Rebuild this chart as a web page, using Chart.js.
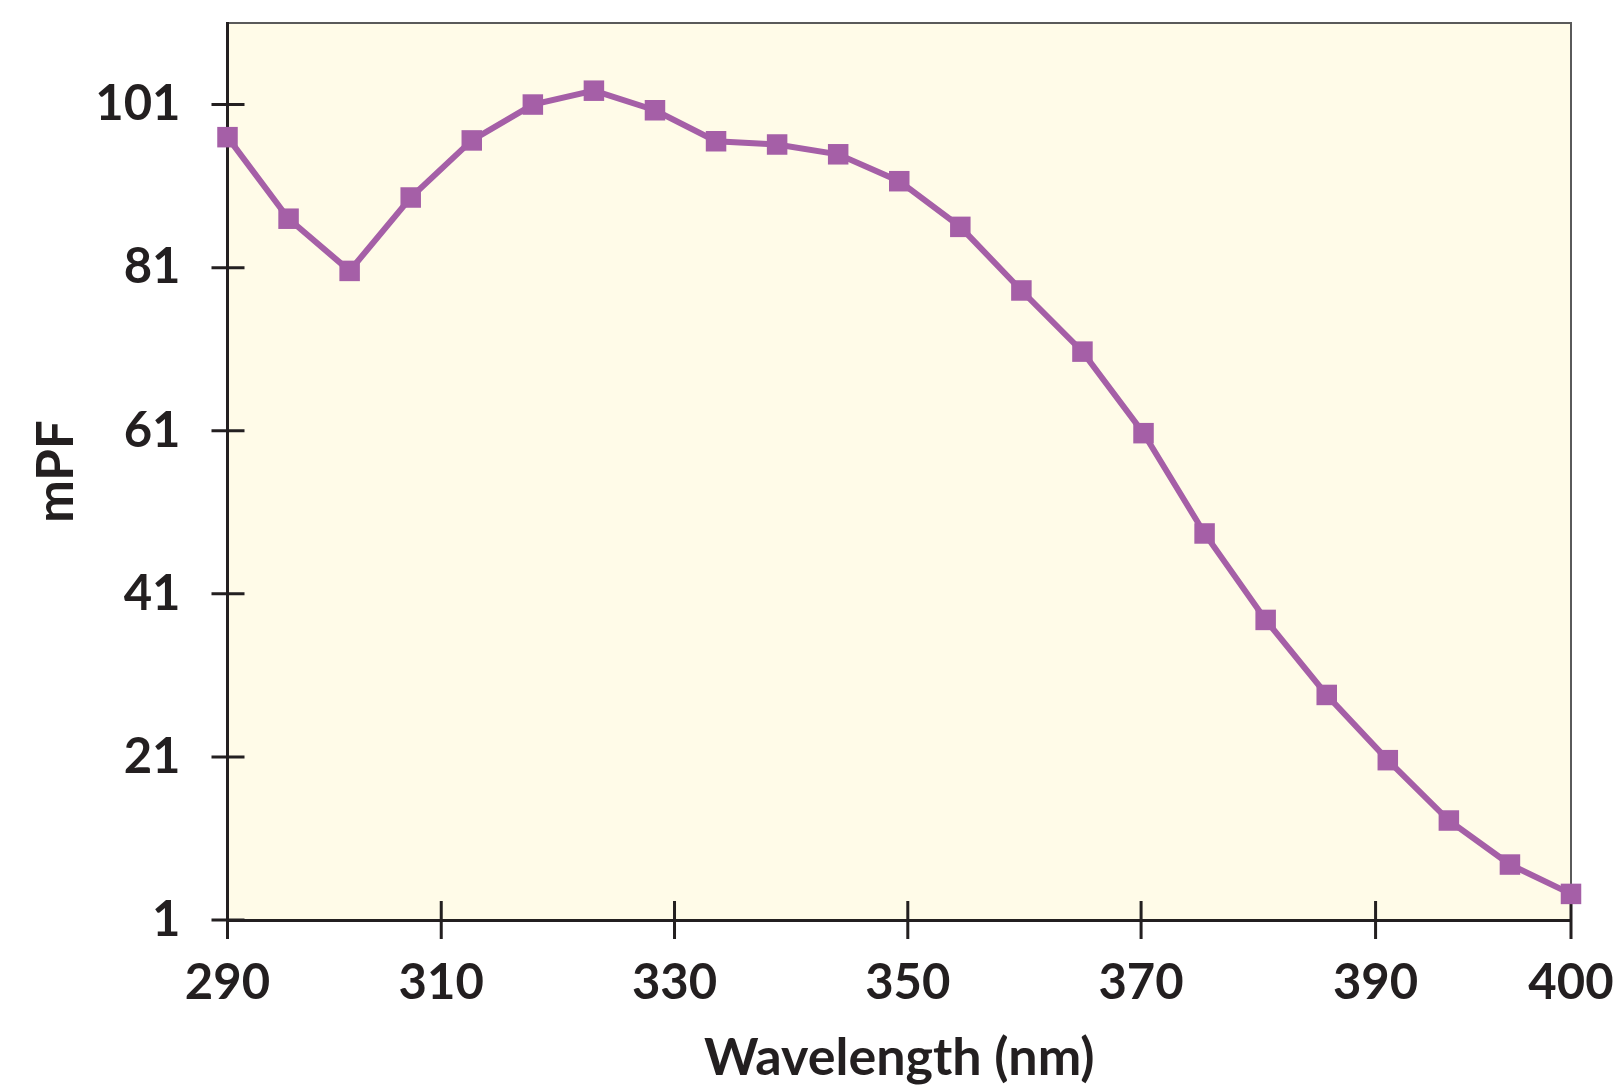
<!DOCTYPE html>
<html><head><meta charset="utf-8">
<script src="https://cdn.jsdelivr.net/npm/chart.js@4/dist/chart.umd.min.js"></script>
<style>html,body{margin:0;padding:0;background:#fff;}#wrap{width:1624px;height:1089px;position:relative;}</style>
</head><body><div id="wrap"><canvas id="c" width="1624" height="1089"></canvas></div>
<script>
const wavelengths = [290,295,300,305,310,315,320,325,330,335,340,345,350,355,360,365,370,375,380,385,390,395,400];
const mpf = [97.0,87.0,80.6,89.6,96.6,101.0,102.7,100.3,96.5,96.1,94.9,91.6,86.0,78.2,70.7,60.7,48.4,37.8,28.6,20.6,13.2,7.8,4.2];
const yTicks = [1,21,41,61,81,101];
const xTickValues = [290,307.5,326.6,345.7,364.8,384,400];
const xTickLabels = ['290','310','330','350','370','390','400'];

const INK = '#231F20';
const FONT = 'Lato, "DejaVu Sans", sans-serif';

const framePlugin = {
  id: 'frame',
  beforeDraw(chart) {
    const {ctx, chartArea: a} = chart;
    ctx.save();
    ctx.fillStyle = '#FFFBE8';
    ctx.fillRect(a.left, a.top, a.right - a.left, a.bottom - a.top);
    ctx.strokeStyle = '#5A5A5A';
    ctx.lineWidth = 2;
    ctx.beginPath();
    ctx.moveTo(a.left, a.top);
    ctx.lineTo(a.right, a.top);
    ctx.lineTo(a.right, a.bottom);
    ctx.stroke();
    ctx.restore();
  },
  beforeDatasetsDraw(chart) {
    const {ctx, chartArea: a, scales} = chart;
    ctx.save();
    ctx.strokeStyle = INK;
    ctx.lineWidth = 3;
    ctx.beginPath();
    scales.y.ticks.forEach(t => {
      const p = scales.y.getPixelForValue(t.value);
      ctx.moveTo(a.left - 16, p); ctx.lineTo(a.left + 17, p);
    });
    scales.x.ticks.forEach(t => {
      const p = scales.x.getPixelForValue(t.value);
      ctx.moveTo(p, a.bottom - 19); ctx.lineTo(p, a.bottom + 19);
    });
    ctx.stroke();
    ctx.restore();
  }
};

new Chart(document.getElementById('c'), {
  type: 'line',
  data: {
    datasets: [{
      data: wavelengths.map((w, i) => ({x: w, y: mpf[i]})),
      borderColor: '#A55FA7',
      backgroundColor: '#A55FA7',
      borderWidth: 6,
      tension: 0,
      pointStyle: 'rect',
      pointRadius: 14.5,
      pointBorderWidth: 0,
      pointBackgroundColor: '#A55FA7',
      clip: false
    }]
  },
  options: {
    responsive: false,
    animation: false,
    layout: {padding: {top: 23, right: 53, left: 0, bottom: 0}},
    plugins: {legend: {display: false}, tooltip: {enabled: false}},
    scales: {
      x: {
        type: 'linear', position: 'bottom', min: 290, max: 400,
        grid: {display: false, drawTicks: false},
        border: {display: true, color: INK, width: 3},
        afterBuildTicks: s => { s.ticks = xTickValues.map(v => ({value: v})); },
        afterFit: s => { s.height = 169; s.paddingLeft = 0; s.paddingRight = 0; },
        ticks: {
          autoSkip: false, maxRotation: 0, minRotation: 0, padding: 34, color: INK,
          font: {family: FONT, size: 49, weight: '700', lineHeight: 1.2},
          callback: (v, i) => xTickLabels[i]
        },
        title: {display: true, text: 'Wavelength (nm)', color: INK,
          font: {family: FONT, size: 52, weight: '700', lineHeight: 1.2},
          padding: {top: 0, bottom: 0}}
      },
      y: {
        type: 'linear', min: 1, max: 111,
        grid: {display: false, drawTicks: false},
        border: {display: true, color: INK, width: 3},
        afterBuildTicks: s => { s.ticks = yTicks.map(v => ({value: v})); },
        afterFit: s => { s.width = 227.5; s.paddingTop = 0; s.paddingBottom = 0; },
        ticks: {
          padding: 47, color: INK,
          font: {family: FONT, size: 49, weight: '700', lineHeight: 0.9},
          callback: v => String(v)
        },
        title: {display: true, text: 'mPF', color: INK,
          font: {family: FONT, size: 51, weight: '700', lineHeight: 1.2},
          padding: {top: 26, bottom: 0}}
      }
    }
  },
  plugins: [framePlugin]
});
</script></body></html>
